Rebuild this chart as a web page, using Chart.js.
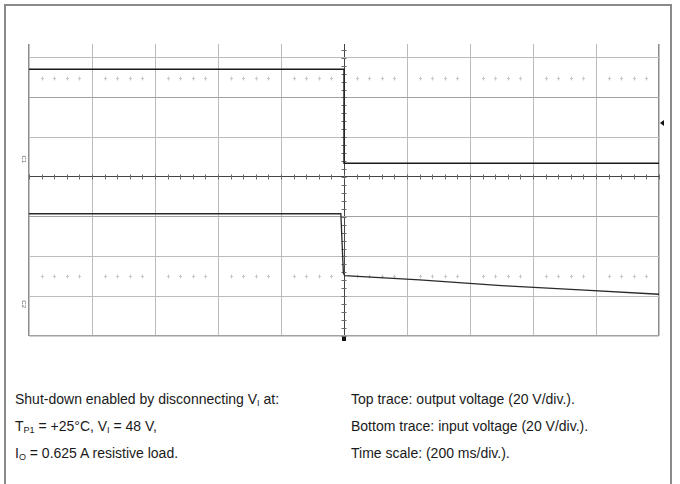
<!DOCTYPE html>
<html>
<head>
<meta charset="utf-8">
<script src="https://cdn.jsdelivr.net/npm/chart.js@4.4.1/dist/chart.umd.min.js"></script>
<style>
  html, body { margin: 0; padding: 0; background: #fff; }
  body { width: 680px; height: 484px; position: relative; overflow: hidden; font-family: "Liberation Sans", Arial, sans-serif; }
  #frame { position: absolute; left: 4px; top: 4px; width: 668px; height: 500px; border: 2px solid #8a8a8a; box-sizing: border-box; }
  #wrap { position: absolute; left: 0; top: 0; width: 680px; height: 350px; }
  .notes { position: absolute; top: 386px; font-size: 14px; line-height: 27px; color: #1a1a1a; white-space: nowrap; }
  .notes sub { font-size: 9px; vertical-align: -2px; line-height: 0; }
</style>
</head>
<body>
<div id="frame"></div>
<div id="wrap"><canvas id="scope"></canvas></div>
<div class="notes" style="left:15px">
  Shut-down enabled by disconnecting V<sub>I</sub> at:<br>
  T<sub>P1</sub> = +25°C, V<sub>I</sub> = 48 V,<br>
  I<sub>O</sub> = 0.625 A resistive load.
</div>
<div class="notes" style="left:351px">
  Top trace: output voltage (20 V/div.).<br>
  Bottom trace: input voltage (20 V/div.).<br>
  Time scale: (200 ms/div.).
</div>
<script>
const outTime  = [0, 1000, 1000, 2000];
const outVolts = [47.3, 47.3, 0, 0];

const inTime  = [0, 990, 998, 1002, 1240, 1500, 1750, 2000];
const inVolts = [47.5, 47.5, 17.8, 16.4, 14.2, 11.3, 9.2, 7.0];

// Escala de la pantalla: 20 V/div, 200 ms/div
const voltsPerDiv = 20;
const msPerDiv = 200;
const c1Ground = 0.345;  // nivel de tierra del canal 1 (div)
const c2Ground = -3.3;   // nivel de tierra del canal 2 (div)
const triggerDiv = 1.36;
const xDivs = [0, 1, 2, 3, 4, 5, 6, 7, 8, 9, 10];
const yDivs = [-4, -3, -2, -1, 0, 1, 2, 3];

const toPoints = (t, v, gnd) => t.map((x, i) => ({ x: x, y: gnd + v[i] / voltsPerDiv }));

// Marcas de la retícula: subdivisiones, filas punteadas y marcadores de canal
const scopeMarks = {
    id: 'scopeMarks',
    beforeDatasetsDraw(chart) {
        const ctx = chart.ctx;
        const xs = chart.scales.x, ys = chart.scales.y;
        const cx = xs.getPixelForValue(1000), cy = ys.getPixelForValue(0);
        ctx.save();
        ctx.strokeStyle = '#6a6a6a';
        ctx.lineWidth = 1;
        ctx.beginPath();
        for (let i = 0; i <= 50; i++) {
            const px = Math.round(xs.getPixelForValue(i * msPerDiv / 5)) + 0.5;
            ctx.moveTo(px, cy - 2.5); ctx.lineTo(px, cy + 2.5);
        }
        for (let i = -20; i <= 16; i++) {
            const py = Math.round(ys.getPixelForValue(i / 5)) + 0.5;
            ctx.moveTo(cx - 2.5, py); ctx.lineTo(cx + 2.5, py);
        }
        ctx.stroke();

        // filas de cruces tenues a +-2.5 div
        ctx.strokeStyle = '#c8c8c8';
        ctx.beginPath();
        [2.5, -2.5].forEach(d => {
            const py = Math.round(ys.getPixelForValue(d)) + 0.5;
            for (let i = 0; i <= 50; i++) {
                if (i % 5 === 0) continue;
                const px = Math.round(xs.getPixelForValue(i * msPerDiv / 5)) + 0.5;
                ctx.moveTo(px, py - 2); ctx.lineTo(px, py + 2);
                ctx.moveTo(px - 1.5, py); ctx.lineTo(px + 1.5, py);
            }
        });
        ctx.stroke();
        ctx.restore();
    },
    afterDraw(chart) {
        const ctx = chart.ctx;
        const xs = chart.scales.x, ys = chart.scales.y;
        const area = chart.chartArea;
        ctx.save();
        // etiquetas de canal giradas
        ctx.fillStyle = '#666';
        ctx.font = '6px "Liberation Sans", Arial, sans-serif';
        ctx.textAlign = 'center';
        ctx.textBaseline = 'middle';
        [['C1', c1Ground], ['C2', c2Ground]].forEach(([lbl, g]) => {
            ctx.save();
            ctx.translate(area.left - 5, ys.getPixelForValue(g) - 4);
            ctx.rotate(Math.PI / 2);
            ctx.fillText(lbl, 0, 0);
            ctx.restore();
        });
        // marcador de disparo (derecha)
        ctx.fillStyle = '#111';
        const ty = ys.getPixelForValue(triggerDiv);
        ctx.beginPath();
        ctx.moveTo(area.right + 1, ty);
        ctx.lineTo(area.right + 5, ty - 3);
        ctx.lineTo(area.right + 5, ty + 3);
        ctx.closePath();
        ctx.fill();
        // marcador de tiempo de disparo (abajo)
        const tx = xs.getPixelForValue(1000);
        ctx.fillRect(tx - 2, area.bottom + 1, 4, 4);
        ctx.restore();
    }
};

const gridColor = (v, center) => v === center ? '#444' : '#bcbcbc';

new Chart(document.getElementById('scope'), {
    type: 'line',
    data: {
        datasets: [
            {
                label: 'Output voltage',
                data: toPoints(outTime, outVolts, c1Ground),
                borderColor: '#1a1a1a',
                borderWidth: 1.4,
                pointRadius: 0,
                tension: 0,
                fill: false
            },
            {
                label: 'Input voltage',
                data: toPoints(inTime, inVolts, c2Ground),
                borderColor: '#2a2a2a',
                borderWidth: 1.3,
                pointRadius: 0,
                tension: 0,
                fill: false
            }
        ]
    },
    options: {
        responsive: true,
        maintainAspectRatio: false,
        animation: false,
        events: [],
        layout: { padding: { left: 29, top: 44, right: 21, bottom: 14 } },
        plugins: { legend: { display: false }, tooltip: { enabled: false } },
        scales: {
            x: {
                type: 'linear',
                min: 0,
                max: 2000,
                afterBuildTicks: s => { s.ticks = xDivs.map(d => ({ value: d * msPerDiv })); },
                ticks: { display: false },
                grid: {
                    drawTicks: false,
                    color: c => (c.tick.value === 0 || c.tick.value === 2000) ? '#8c8c8c' : gridColor(c.tick.value, 1000),
                    lineWidth: c => (c.tick.value === 0 || c.tick.value === 2000) ? 1.5 : 1
                },
                border: { display: false }
            },
            y: {
                type: 'linear',
                min: -4,
                max: 3.345,
                afterBuildTicks: s => { s.ticks = yDivs.map(d => ({ value: d })); },
                ticks: { display: false },
                grid: {
                    drawTicks: false,
                    color: c => (c.tick.value === 2 || c.tick.value === -1 || c.tick.value === -4) ? '#a2a2a2' : gridColor(c.tick.value, 0),
                    lineWidth: c => c.tick.value === -4 ? 1.5 : 1
                },
                border: { display: false }
            }
        }
    },
    plugins: [scopeMarks]
});
</script>
</body>
</html>
